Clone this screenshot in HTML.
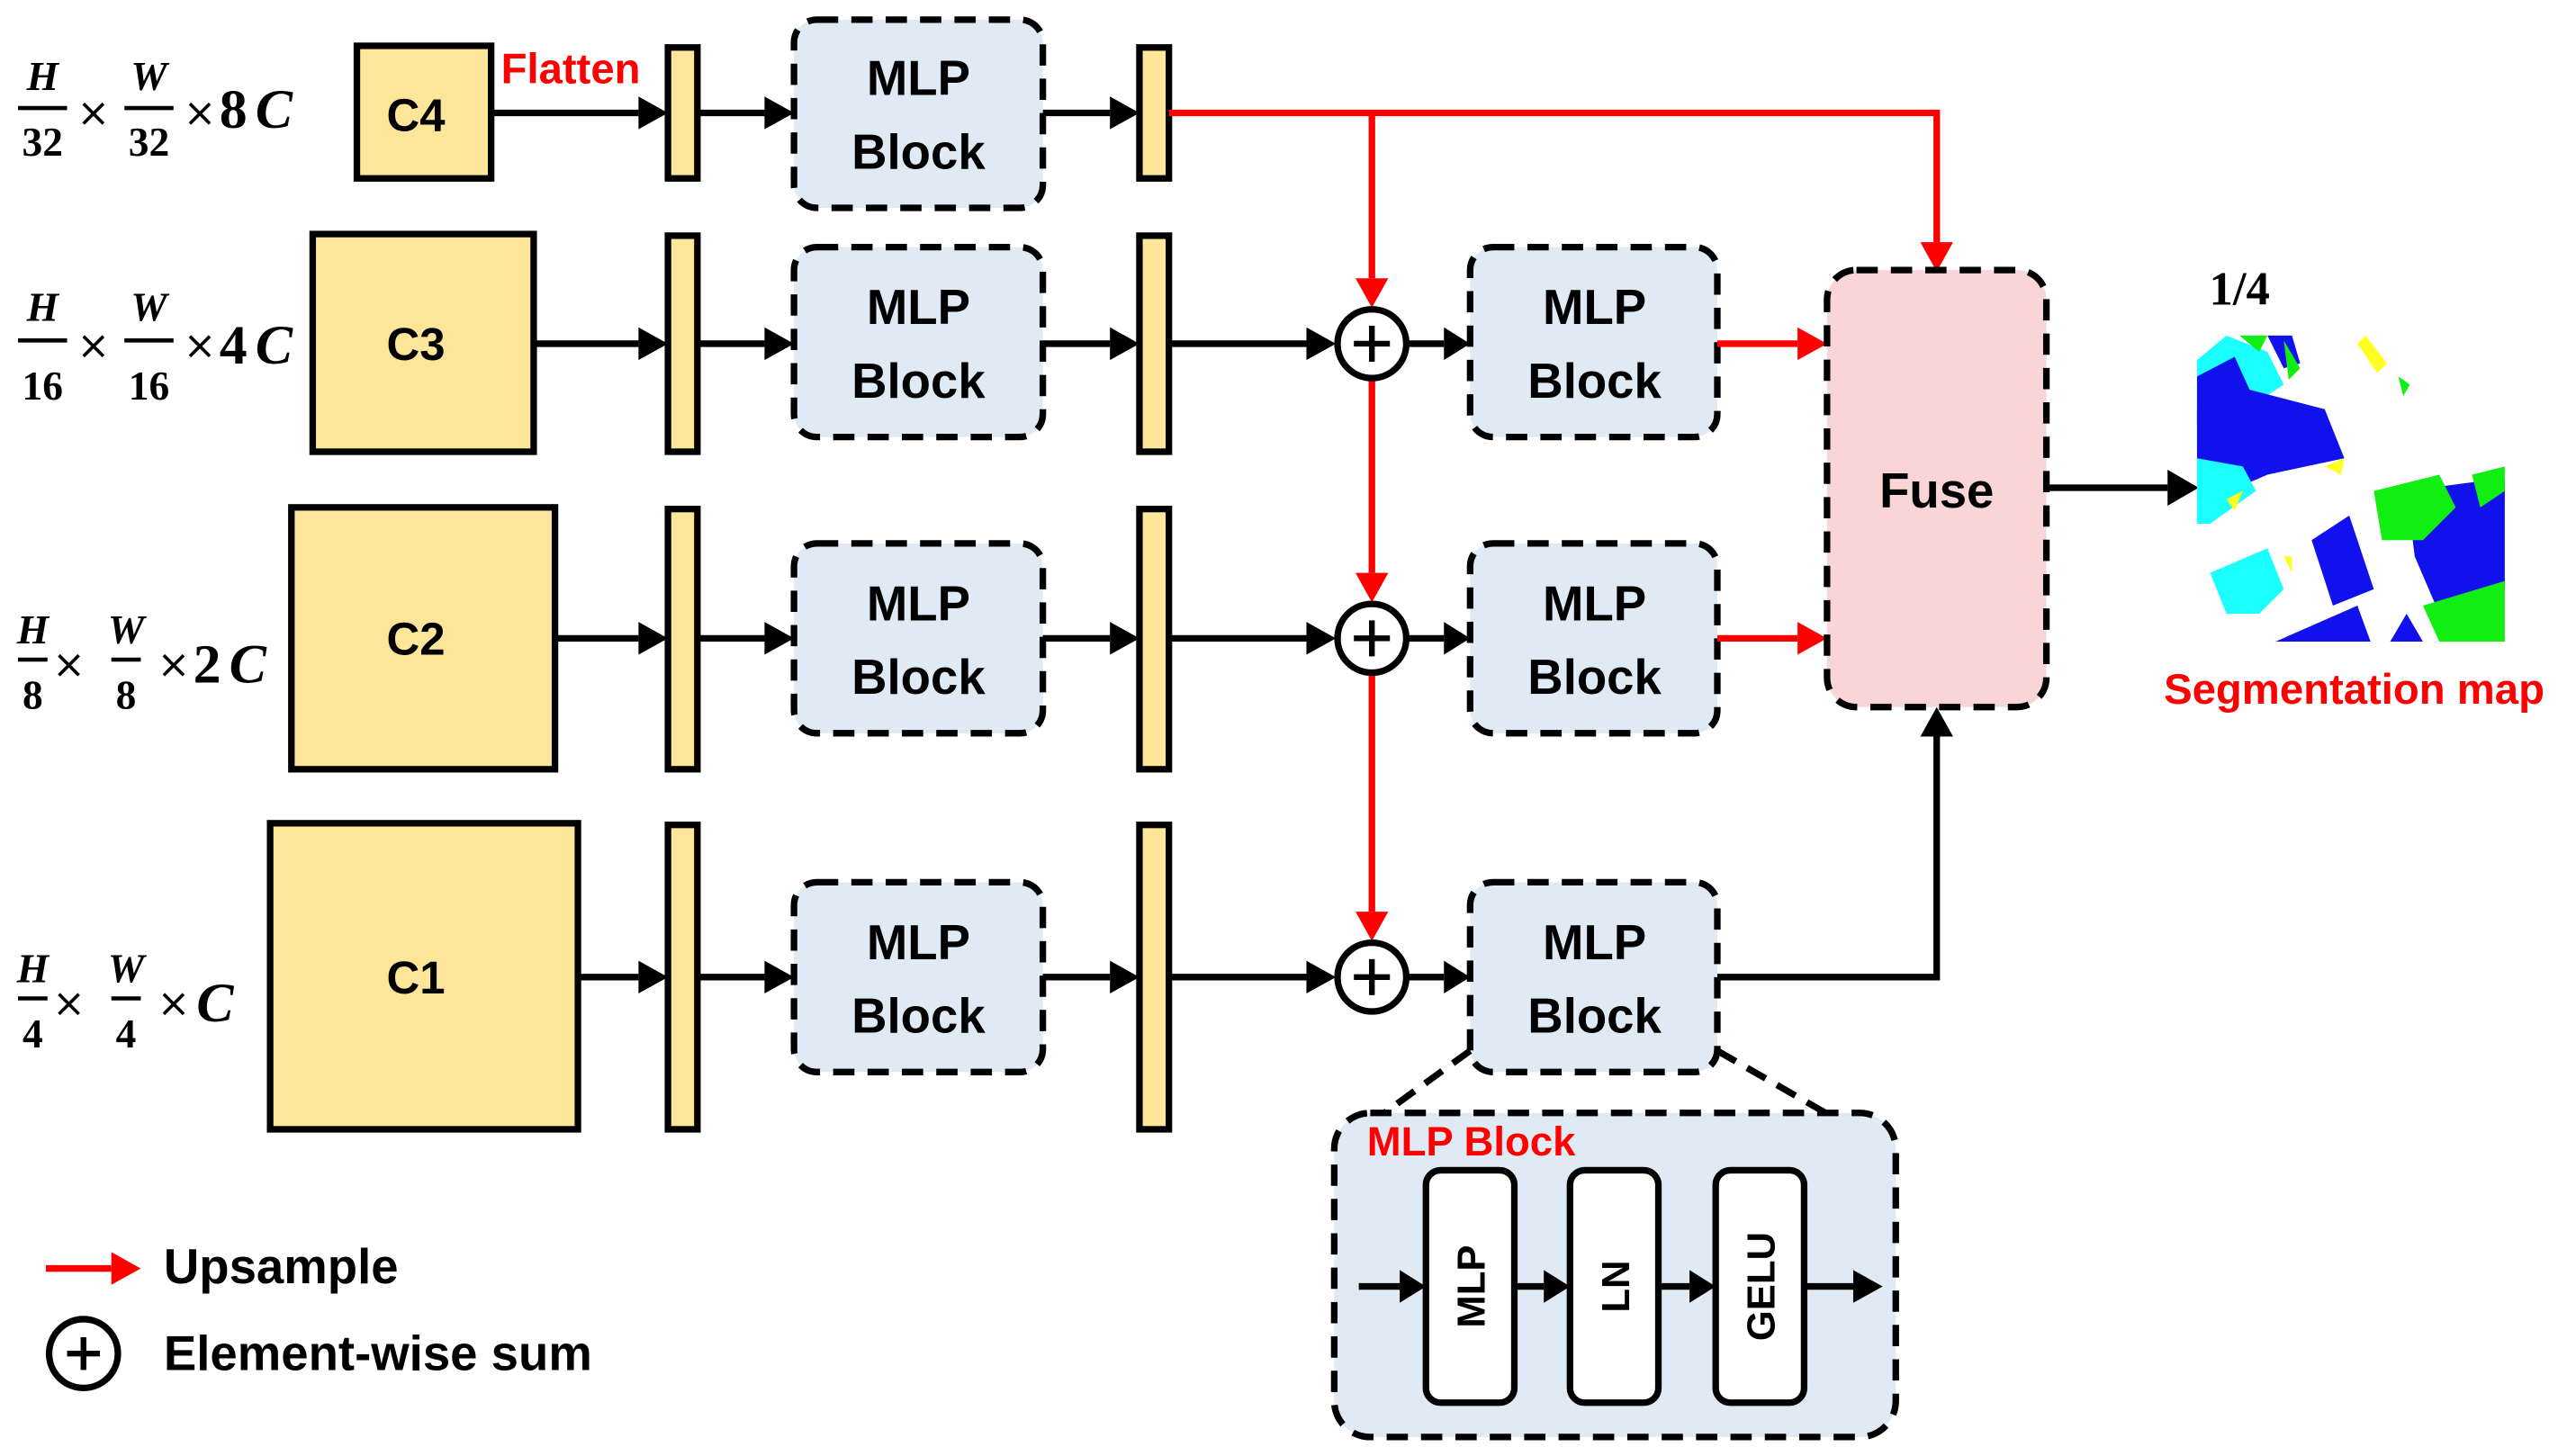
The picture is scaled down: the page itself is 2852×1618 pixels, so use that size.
<!DOCTYPE html>
<html><head><meta charset="utf-8"><style>
html,body{margin:0;padding:0;background:#fff}
svg{display:block}
.t{font-family:"Liberation Sans",sans-serif;font-weight:bold}
.m{font-family:"Liberation Serif",serif;font-style:italic;font-weight:bold}
.n{font-family:"Liberation Serif",serif;font-weight:bold}
</style></head><body>
<svg width="2852" height="1618" viewBox="0 0 1568 889.6" preserveAspectRatio="none" xmlns="http://www.w3.org/2000/svg">
<style>
.box{fill:#fde59a;stroke:#000;stroke-width:4}
.mlp{fill:#dfeaf5;stroke:#000;stroke-width:4;stroke-dasharray:13,8}
.bl{stroke:#000;stroke-width:4;fill:none}
.rd{stroke:#f00;stroke-width:4;fill:none}
</style>
<g class="m" font-size="25" text-anchor="middle">
<text x="26" y="55">H</text><text x="91" y="55">W</text>
<text x="26" y="196">H</text><text x="91" y="196">W</text>
<text x="20" y="393">H</text><text x="77" y="393">W</text>
<text x="20" y="600">H</text><text x="77" y="600">W</text>
</g>
<g class="n" font-size="25" text-anchor="middle">
<text x="26" y="95">32</text><text x="91" y="95">32</text>
<text x="26" y="244">16</text><text x="91" y="244">16</text>
<text x="20" y="433">8</text><text x="77" y="433">8</text>
<text x="20" y="640">4</text><text x="77" y="640">4</text>
</g>
<g stroke="#000" stroke-width="2.5">
<line x1="11" y1="66" x2="41" y2="66"/><line x1="76" y1="66" x2="106" y2="66"/>
<line x1="11" y1="208" x2="41" y2="208"/><line x1="76" y1="208" x2="106" y2="208"/>
<line x1="11" y1="403" x2="29" y2="403"/><line x1="68" y1="403" x2="86" y2="403"/>
<line x1="11" y1="610" x2="29" y2="610"/><line x1="68" y1="610" x2="86" y2="610"/>
</g>
<g font-family="DejaVu Sans" font-size="24">
<text x="47" y="77">×</text><text x="112" y="77">×</text>
<text x="47" y="219">×</text><text x="112" y="219">×</text>
<text x="32" y="414">×</text><text x="96" y="414">×</text>
<text x="32" y="621">×</text><text x="96" y="621">×</text>
</g>
<g font-size="34">
<text class="n" x="134" y="78">8</text><text class="m" x="156" y="78">C</text>
<text class="n" x="134" y="222">4</text><text class="m" x="156" y="222">C</text>
<text class="n" x="118" y="417">2</text><text class="m" x="140" y="417">C</text>
<text class="m" x="120" y="624">C</text>
</g>
<rect class="box" x="218" y="28" width="82" height="81"/>
<rect class="box" x="191" y="143" width="135" height="133"/>
<rect class="box" x="178" y="310" width="161" height="160"/>
<rect class="box" x="165" y="503" width="188" height="187"/>
<g class="t" font-size="28" text-anchor="middle">
<text x="254" y="80">C4</text><text x="254" y="220">C3</text><text x="254" y="400">C2</text><text x="254" y="607">C1</text>
</g>
<text class="t" x="306" y="51" font-size="26" fill="#f00">Flatten</text>
<g class="box" stroke-width="3">
<rect x="408" y="29" width="18" height="80"/><rect x="408" y="144" width="18" height="132"/><rect x="408" y="311" width="18" height="159"/><rect x="408" y="504" width="18" height="186"/>
<rect x="696" y="29" width="18" height="80"/><rect x="696" y="144" width="18" height="132"/><rect x="696" y="311" width="18" height="159"/><rect x="696" y="504" width="18" height="186"/>
</g>
<rect class="mlp" x="485" y="12" width="152" height="115" rx="14"/>
<rect class="mlp" x="485" y="151" width="152" height="116" rx="14"/>
<rect class="mlp" x="485" y="332" width="152" height="116" rx="14"/>
<rect class="mlp" x="485" y="539" width="152" height="116" rx="14"/>
<rect class="mlp" x="898" y="151" width="151" height="116" rx="14"/>
<rect class="mlp" x="898" y="332" width="151" height="116" rx="14"/>
<rect class="mlp" x="898" y="539" width="151" height="116" rx="14"/>
<g class="t" font-size="30" text-anchor="middle">
<text x="561" y="58">MLP</text><text x="561" y="103">Block</text>
<text x="561" y="198">MLP</text><text x="561" y="243">Block</text>
<text x="561" y="379">MLP</text><text x="561" y="424">Block</text>
<text x="561" y="586">MLP</text><text x="561" y="631">Block</text>
<text x="974" y="198">MLP</text><text x="974" y="243">Block</text>
<text x="974" y="379">MLP</text><text x="974" y="424">Block</text>
<text x="974" y="586">MLP</text><text x="974" y="631">Block</text>
</g>
<g class="bl">
<line x1="300" y1="69" x2="390" y2="69"/><line x1="426" y1="69" x2="467" y2="69"/><line x1="637" y1="69" x2="678" y2="69"/>
<line x1="326" y1="210" x2="390" y2="210"/><line x1="426" y1="210" x2="467" y2="210"/><line x1="637" y1="210" x2="678" y2="210"/><line x1="714" y1="210" x2="798" y2="210"/><line x1="860" y1="210" x2="882" y2="210"/>
<line x1="339" y1="390" x2="390" y2="390"/><line x1="426" y1="390" x2="467" y2="390"/><line x1="637" y1="390" x2="678" y2="390"/><line x1="714" y1="390" x2="798" y2="390"/><line x1="860" y1="390" x2="882" y2="390"/>
<line x1="353" y1="597" x2="390" y2="597"/><line x1="426" y1="597" x2="467" y2="597"/><line x1="637" y1="597" x2="678" y2="597"/><line x1="714" y1="597" x2="798" y2="597"/><line x1="860" y1="597" x2="882" y2="597"/>
<polyline points="1049,597 1183,597 1183,450"/>
<line x1="1250" y1="298" x2="1324" y2="298"/>
</g>
<g fill="#000">
<polygon points="390,59 408,69 390,79"/><polygon points="467,59 485,69 467,79"/><polygon points="678,59 696,69 678,79"/>
<polygon points="390,200 408,210 390,220"/><polygon points="467,200 485,210 467,220"/><polygon points="678,200 696,210 678,220"/><polygon points="798,200 816,210 798,220"/><polygon points="882,200 898,210 882,220"/>
<polygon points="390,380 408,390 390,400"/><polygon points="467,380 485,390 467,400"/><polygon points="678,380 696,390 678,400"/><polygon points="798,380 816,390 798,400"/><polygon points="882,380 898,390 882,400"/>
<polygon points="390,587 408,597 390,607"/><polygon points="467,587 485,597 467,607"/><polygon points="678,587 696,597 678,607"/><polygon points="798,587 816,597 798,607"/><polygon points="882,587 898,597 882,607"/>
<polygon points="1173,450 1183,432 1193,450"/>
<polygon points="1324,287 1343,298 1324,309"/>
</g>
<g class="rd">
<polyline points="714,69 1183,69 1183,148"/>
<line x1="838" y1="69" x2="838" y2="170"/>
<line x1="838" y1="232" x2="838" y2="350"/>
<line x1="838" y1="412" x2="838" y2="557"/>
<line x1="1049" y1="210" x2="1098" y2="210"/>
<line x1="1049" y1="390" x2="1098" y2="390"/>
</g>
<g fill="#f00">
<polygon points="1173,148 1183,166 1193,148"/>
<polygon points="828,170 838,188 848,170"/>
<polygon points="828,350 838,368 848,350"/>
<polygon points="828,557 838,575 848,557"/>
<polygon points="1098,200 1116,210 1098,220"/>
<polygon points="1098,380 1116,390 1098,400"/>
</g>
<circle cx="838" cy="210" r="21" fill="#fff" stroke="#000" stroke-width="4"/>
<circle cx="838" cy="390" r="21" fill="#fff" stroke="#000" stroke-width="4"/>
<circle cx="838" cy="597" r="21" fill="#fff" stroke="#000" stroke-width="4"/>
<path d="M827,210h22M838,199v22M827,390h22M838,379v22M827,597h22M838,586v22" stroke="#000" stroke-width="3.5"/>
<rect x="1116" y="165" width="134" height="267" rx="18" fill="#f9d5d5" stroke="#000" stroke-width="4" stroke-dasharray="13,8"/>
<text class="t" x="1183" y="310" font-size="30" text-anchor="middle">Fuse</text>
<text class="n" x="1368" y="186" font-size="29" text-anchor="middle">1/4</text>
<g>
<polygon points="1342,220 1360,205 1385,215 1395,235 1372,250 1350,270 1342,275" fill="#1bffff"/>
<polygon points="1342,230 1365,218 1375,240 1342,260" fill="#1111ee"/>
<polygon points="1362,235 1420,250 1432,280 1385,290 1362,300 1342,305 1342,250" fill="#1111ee"/>
<polygon points="1342,280 1370,285 1378,300 1350,320 1342,320" fill="#1bffff"/>
<polygon points="1385,205 1400,205 1405,222 1395,225" fill="#1111ee"/>
<polygon points="1368,205 1385,205 1380,215" fill="#11ee11"/>
<polygon points="1395,208 1405,225 1398,232" fill="#11ee11"/>
<polygon points="1445,205 1458,222 1452,228 1440,210" fill="#ffff22"/>
<polygon points="1465,230 1472,235 1468,242" fill="#11ee11"/>
<polygon points="1470,300 1530,292 1530,360 1490,375 1475,340" fill="#1111ee"/>
<polygon points="1450,300 1490,290 1500,310 1480,330 1455,330" fill="#11ee11"/>
<polygon points="1510,290 1530,285 1530,300 1515,310" fill="#11ee11"/>
<polygon points="1412,330 1435,315 1450,360 1425,370" fill="#1111ee"/>
<polygon points="1350,350 1385,335 1395,360 1380,375 1360,375" fill="#1bffff"/>
<polygon points="1390,392 1440,370 1448,392" fill="#1111ee"/>
<polygon points="1480,370 1530,355 1530,392 1490,392" fill="#11ee11"/>
<polygon points="1460,392 1470,375 1480,392" fill="#1111ee"/>
<polygon points="1360,305 1370,300 1365,312" fill="#ffff22"/>
<polygon points="1420,285 1432,280 1430,290" fill="#ffff22"/>
<polygon points="1395,340 1400,340 1400,350" fill="#ffff22"/>
</g>
<text class="t" x="1438" y="430" font-size="26" fill="#f00" text-anchor="middle">Segmentation map</text>
<g stroke="#000" stroke-width="4" stroke-dasharray="13,8" fill="none">
<line x1="898" y1="642" x2="818" y2="700"/>
<line x1="1049" y1="642" x2="1150" y2="700"/>
</g>
<rect x="815" y="680" width="343" height="198" rx="22" fill="#dfeaf5" stroke="#000" stroke-width="4" stroke-dasharray="13,8"/>
<text class="t" x="835" y="706" font-size="25" fill="#f00">MLP Block</text>
<g fill="#fff" stroke="#000" stroke-width="4">
<rect x="871" y="715" width="54" height="142" rx="9"/>
<rect x="959" y="715" width="54" height="142" rx="9"/>
<rect x="1048" y="715" width="54" height="142" rx="9"/>
</g>
<g class="bl">
<line x1="830" y1="786" x2="855" y2="786"/><line x1="925" y1="786" x2="943" y2="786"/><line x1="1013" y1="786" x2="1032" y2="786"/><line x1="1102" y1="786" x2="1132" y2="786"/>
</g>
<g fill="#000">
<polygon points="855,776 871,786 855,796"/><polygon points="943,776 959,786 943,796"/><polygon points="1032,776 1048,786 1032,796"/><polygon points="1132,776 1150,786 1132,796"/>
</g>
<g class="t" font-size="24" text-anchor="middle">
<text transform="translate(907,786) rotate(-90)">MLP</text>
<text transform="translate(995,786) rotate(-90)">LN</text>
<text transform="translate(1084,786) rotate(-90)">GELU</text>
</g>
<line x1="28" y1="775" x2="68" y2="775" class="rd"/>
<polygon points="68,765 86,775 68,785" fill="#f00"/>
<text class="t" x="100" y="784" font-size="30">Upsample</text>
<circle cx="51" cy="827" r="21" fill="#fff" stroke="#000" stroke-width="4"/>
<path d="M41,827h20M51,817v20" stroke="#000" stroke-width="3.5"/>
<text class="t" x="100" y="837" font-size="30">Element-wise sum</text>
</svg>
</body></html>
